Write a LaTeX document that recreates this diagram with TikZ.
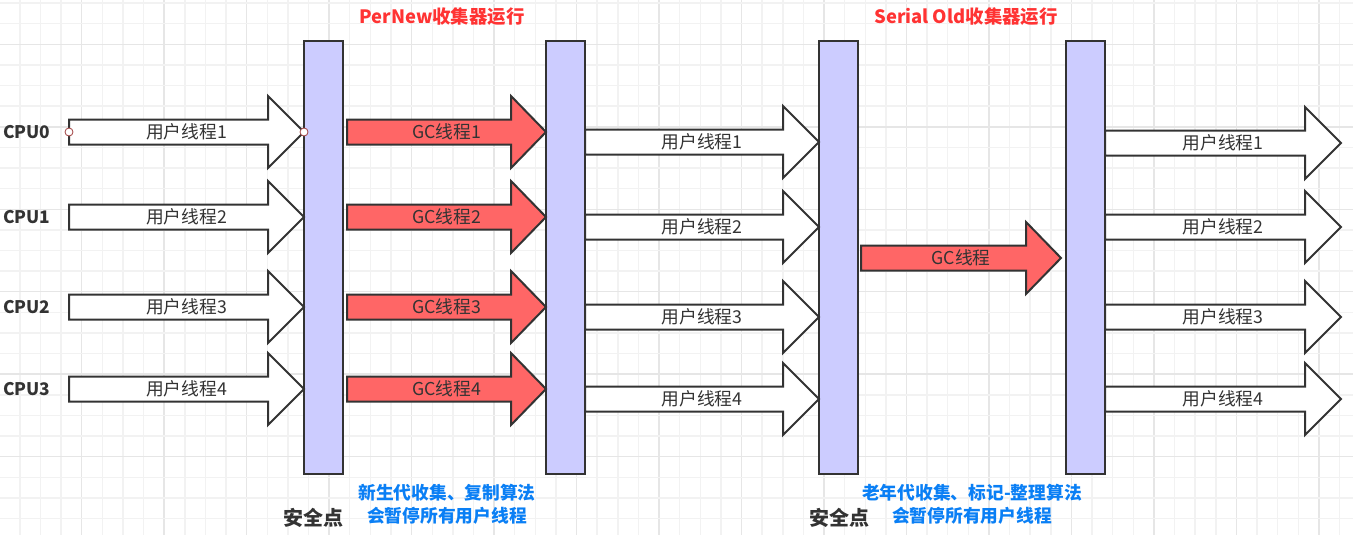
\documentclass[tikz,border=0pt]{standalone}
\usepackage{fontspec}
\setmainfont{Noto Sans CJK SC}
\begin{document}
\begin{tikzpicture}[x=0.75pt,y=-0.75pt,
  ink/.style={draw=black!80, line width=1.5pt, line join=miter},
  userarrow/.style={ink, fill=white},
  gcarrow/.style={ink, fill=gcred},
  bar/.style={ink, fill=barblue, rectangle, minimum width=29.25pt, minimum height=324.75pt, inner sep=0pt},
  lbl/.style={font=\fontsize{13.3pt}{15pt}\selectfont, text=black!80, inner sep=0pt},
  cpu/.style={font=\fontsize{13pt}{15pt}\selectfont\bfseries, text=black!80, anchor=west, inner sep=0pt},
  title/.style={font=\fontsize{13.8pt}{16pt}\selectfont\bfseries, text=titlered, inner sep=0pt},
  safe/.style={font=\fontsize{15pt}{17pt}\selectfont\bfseries, text=black!80, inner sep=0pt},
  note/.style={font=\fontsize{13.3pt}{16pt}\selectfont\bfseries, text=noteblue, inner sep=0pt},
  handle/.style={circle, draw=handlered, fill=white, line width=0.6pt, minimum size=6pt, inner sep=0pt}
]
\definecolor{gcred}{HTML}{FF6666}
\definecolor{barblue}{HTML}{CCCCFF}
\definecolor{titlered}{HTML}{FF3333}
\definecolor{noteblue}{HTML}{0A7FF5}
\definecolor{handlered}{HTML}{A04040}
\definecolor{gridminor}{HTML}{F2F2F2}
\definecolor{gridmajor}{HTML}{E6E6E6}
\useasboundingbox (0,0) rectangle (1353,535);
\fill[white] (0,0) rectangle (1353,535);
% grid
\foreach \k in {-3,...,62} {
  \pgfmathsetmacro\gx{81.7+\k*20.62}
  \pgfmathtruncatemacro\isM{mod(\k+400,4)==0}
  \ifnum\isM=1 \draw[gridmajor, line width=1.1pt] (\gx,0) -- (\gx,535);
  \else \draw[gridminor, line width=1.1pt] (\gx,0) -- (\gx,535); \fi
}
\foreach \k in {-2,...,24} {
  \pgfmathsetmacro\gy{44.3+\k*20.62}
  \pgfmathtruncatemacro\isM{mod(\k+400,4)==0}
  \ifnum\isM=1 \draw[gridmajor, line width=1.1pt] (0,\gy) -- (1353,\gy);
  \else \draw[gridminor, line width=1.1pt] (0,\gy) -- (1353,\gy); \fi
}
% fat arrow macro: style, x start, head start, tip, y centre, node name, text
\newcommand{\fatarrow}[7]{%
  \draw[#1] ({#2},{#5-12.5}) -- ({#3},{#5-12.5}) -- ({#3},{#5-36}) -- ({#4},{#5})
     -- ({#3},{#5+36}) -- ({#3},{#5+12.5}) -- ({#2},{#5+12.5}) -- cycle;
  \node[lbl] (#6) at ({(#2+#4)/2},{#5}) {#7};}
% bars
\node[bar] (bar1) at (323.5,257.5) {};
\node[bar] (bar2) at (565.5,257.5) {};
\node[bar] (bar3) at (838.5,257.5) {};
\node[bar] (bar4) at (1085.5,257.5) {};
% left user threads
\fatarrow{userarrow}{69}{268}{304}{132}{u01}{用户线程1}
\fatarrow{userarrow}{69}{268}{304}{217}{u02}{用户线程2}
\fatarrow{userarrow}{69}{268}{304}{307}{u03}{用户线程3}
\fatarrow{userarrow}{69}{268}{304}{389}{u04}{用户线程4}
% GC threads
\fatarrow{gcarrow}{347}{511}{546}{132}{g1}{GC线程1}
\fatarrow{gcarrow}{347}{511}{546}{217}{g2}{GC线程2}
\fatarrow{gcarrow}{347}{511}{546}{307}{g3}{GC线程3}
\fatarrow{gcarrow}{347}{511}{546}{389}{g4}{GC线程4}
% middle user threads
\fatarrow{userarrow}{585}{783}{819}{142}{u11}{用户线程1}
\fatarrow{userarrow}{585}{783}{819}{227}{u12}{用户线程2}
\fatarrow{userarrow}{585}{783}{819}{317}{u13}{用户线程3}
\fatarrow{userarrow}{585}{783}{819}{399}{u14}{用户线程4}
% serial old GC thread
\fatarrow{gcarrow}{861}{1026}{1061}{258}{g5}{GC线程}
% right user threads
\fatarrow{userarrow}{1105}{1305}{1341}{143}{u21}{用户线程1}
\fatarrow{userarrow}{1105}{1305}{1341}{227}{u22}{用户线程2}
\fatarrow{userarrow}{1105}{1305}{1341}{317}{u23}{用户线程3}
\fatarrow{userarrow}{1105}{1305}{1341}{399}{u24}{用户线程4}
% selection handles
\node[handle] (h1) at (69,132) {};
\node[handle] (h2) at (304,132) {};
% CPU labels
\node[cpu] (c0) at (3,132) {CPU0};
\node[cpu] (c1) at (3,217) {CPU1};
\node[cpu] (c2) at (3,307) {CPU2};
\node[cpu] (c3) at (3,389) {CPU3};
% titles
\node[title] (t1) at (442,17) {PerNew收集器运行};
\node[title] (t2) at (966,17) {Serial Old收集器运行};
% bottom
\node[safe] (s1) at (313,518) {安全点};
\node[safe] (s2) at (839,518) {安全点};
\node[note] (n1a) at (447,493) {新生代收集、复制算法};
\node[note] (n1b) at (447,516) {会暂停所有用户线程};
\node[note] (n2a) at (972,493) {老年代收集、标记-整理算法};
\node[note] (n2b) at (972,516) {会暂停所有用户线程};
\end{tikzpicture}
\end{document}
